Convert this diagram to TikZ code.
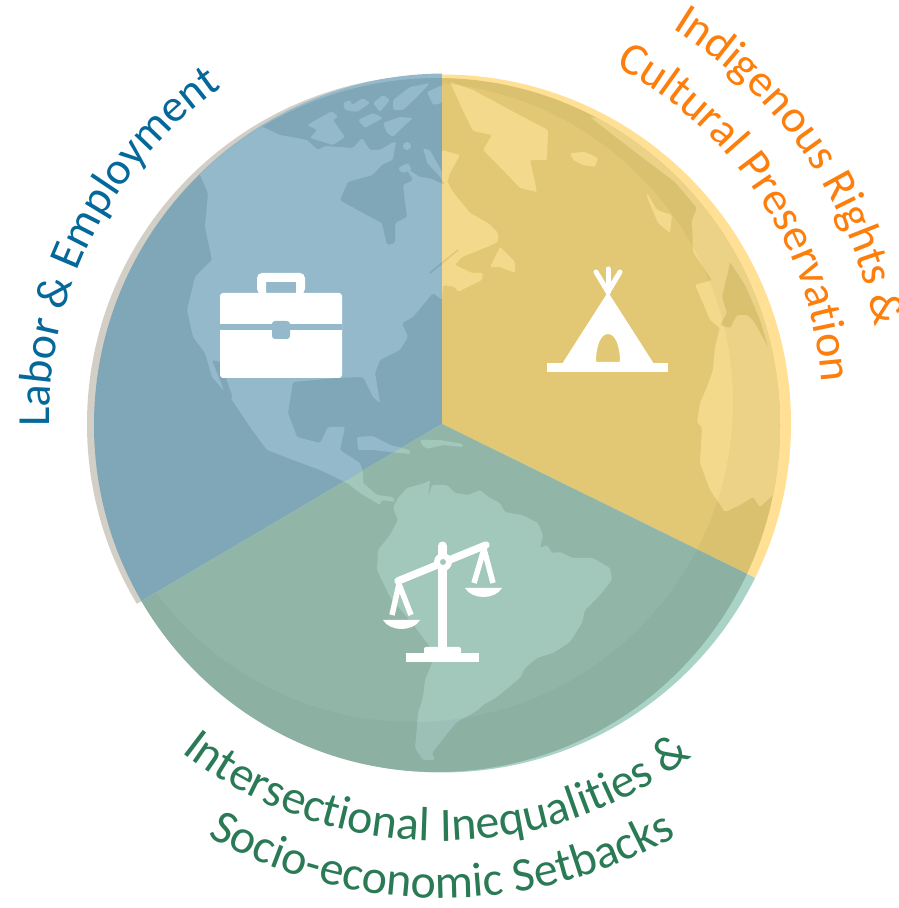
\documentclass[tikz,border=0pt]{standalone}
\usepackage{fontspec}
\setmainfont{Carlito}
\usetikzlibrary{decorations.text}
\definecolor{bluering}{HTML}{93B9CB}
\definecolor{blueocean}{HTML}{7FA7B7}
\definecolor{blueland}{HTML}{93B9CB}
\definecolor{yelring}{HTML}{FFE095}
\definecolor{yelocean}{HTML}{E2C874}
\definecolor{yelland}{HTML}{F3D98B}
\definecolor{grnring}{HTML}{AAD3C8}
\definecolor{grnocean}{HTML}{91B6A7}
\definecolor{grnland}{HTML}{A2C7BB}
\definecolor{crescent}{HTML}{D3CFC6}
\definecolor{txtblue}{HTML}{04699A}
\definecolor{txtorange}{HTML}{FD7E0B}
\definecolor{txtgreen}{HTML}{2A7A55}
\tikzset{
  px/.style={yshift=908pt,y=-1pt},
  land/.style={fill=landc,rounded corners=1.5pt},
  sea/.style={fill=seac,rounded corners=1.5pt},
  icon/.style={fill=white},
  iconline/.style={draw=white,line cap=round},
  rim/.style={fill=black,fill opacity=.03,even odd rule},
  curved/.style={decorate,decoration={text along path,text align=center,text={#1}}}
}
\newcommand\capsize{\fontsize{46}{54}\selectfont}
\newcommand\botsize{\fontsize{48}{54}\selectfont}
\newcommand\landshapes{%
  % North and Central America
  \fill[land] (150,120)--(263,127)--(280,135)--(307,140)--(318,150)--(325,146)--(353,148)--(362,138)--(370,150)--(380,150)--(393,142)--(430,150)--(453,192)--(470,213)--(488,223)--(498,233)--(498,242)--(487,247)--(462,257)--(455,265)--(472,273)--(483,273)--(482,280)--(458,292)--(455,287)--(443,285)--(442,300)--(433,293)--(413,317)--(402,323)--(408,337)--(400,350)--(380,360)--(375,373)--(380,403)--(373,397)--(363,377)--(337,378)--(293,382)--(288,413)--(297,437)--(320,443)--(328,427)--(345,427)--(340,450)--(360,463)--(363,472)--(363,483)--(377,495)--(393,497)--(395,502)--(382,500)--(380,505)--(360,493)--(347,483)--(320,470)--(293,460)--(267,450)--(250,427)--(232,400)--(212,377)--(205,353)--(193,337)--(187,310)--(195,277)--(212,260)--(205,227)--(208,193)--(200,175)--cycle;
  % Hudson Bay and northern waters
  \fill[sea] (340,200)--(348,182)--(373,175)--(382,165)--(393,160)--(397,137)--(413,135)--(423,148)--(427,163)--(440,177)--(445,185)--(430,178)--(420,177)--(405,167)--(413,180)--(403,185)--(405,203)--(407,217)--(395,223)--(395,243)--(387,245)--(382,223)--(363,213)--cycle;
  \fill[land] (407,146) circle[radius=4];
  \fill[land] (398,168)--(408,163)--(412,170)--(402,173)--cycle;
  % Gulf of California, St Lawrence
  \fill[sea] (212,360)--(220,362)--(232,395)--(230,410)--(222,385)--cycle;
  \draw[seac,line width=1.5pt] (430,273)--(458,250);
  % Arctic islands
  \fill[land] (307,125)--(332,111)--(338,117)--(333,120)--(345,137)--(333,145)--(310,138)--(317,130)--cycle;
  \fill[land] (343,103)--(350,100)--(352,105)--(363,98)--(370,103)--(357,112)--(345,110)--cycle;
  \fill[land] (358,120)--(373,113)--(383,118)--(365,128)--cycle;
  \fill[land] (383,123)--(400,117)--(413,118)--(403,127)--(393,137)--(387,133)--cycle;
  \fill[land] (373,103)--(383,95)--(390,100)--(380,112)--cycle;
  \fill[land] (393,100)--(410,87)--(430,83)--(417,97)--(403,110)--(393,110)--cycle;
  \fill[land] (427,92)--(442,85)--(442,103)--(433,105)--cycle;
  \fill[land] (442,150)--(460,155)--(450,173)--(447,183)--(442,172)--cycle;
  % Greenland and Iceland
  \fill[land] (450,82)--(473,90)--(510,110)--(548,130)--(547,160)--(530,160)--(537,192)--(520,188)--(500,167)--(483,150)--(492,135)--(473,131)--(465,115)--cycle;
  \fill[land] (570,153)--(585,152)--(598,158)--(595,167)--(583,165)--(573,160)--cycle;
  % Newfoundland
  \fill[land] (490,267)--(500,247)--(515,262)--(515,273)--(500,267)--cycle;
  % British Isles and Europe
  \fill[land] (647,193)--(657,210)--(672,215)--(670,233)--(658,223)--(647,197)--cycle;
  \fill[land] (590,117)--(643,158)--(675,182)--(697,208)--(692,220)--(693,252)--(712,280)--(695,285)--(703,303)--(710,320)--(720,328)--(715,347)--(713,370)--(707,387)--(700,403)--(697,423)--(702,427)--(700,463)--(710,490)--(717,500)--(725,512)--(740,505)--(753,497)--(760,507)--(800,470)--(800,300)--(720,170)--(650,125)--cycle;
  % Mediterranean
  \fill[sea] (728,272)--(730,262)--(745,285)--(760,320)--(768,347)--(755,323)--(748,315)--(737,315)--(730,328)--(720,325)--(727,313)--(722,297)--cycle;
  % South America
  \fill[land] (393,508)--(398,498)--(407,488)--(425,483)--(430,480)--(428,497)--(432,485)--(447,485)--(455,493)--(468,495)--(480,490)--(490,498)--(500,503)--(505,512)--(522,515)--(538,523)--(543,535)--(540,548)--(547,545)--(552,553)--(560,552)--(573,558)--(593,558)--(610,568)--(612,580)--(600,595)--(585,610)--(582,623)--(570,642)--(553,653)--(537,658)--(525,668)--(520,678)--(497,697)--(483,705)--(478,710)--(457,722)--(450,730)--(440,743)--(432,753)--(435,760)--(423,760)--(415,748)--(417,727)--(418,713)--(423,697)--(425,680)--(432,663)--(430,647)--(412,623)--(390,597)--(377,570)--(378,550)--(390,535)--(398,520)--cycle;
  % Caribbean
  \fill[land] (357,437)--(373,436)--(390,445)--(410,450)--(410,454)--(390,452)--(373,450)--(358,450)--cycle;
  \fill[land] (420,440)--(440,440)--(463,444)--(463,447)--(443,445)--(427,449)--(422,445)--cycle;
}
\newcommand\globedisc[4]{% ring colour, ocean, land, rim flag
  \colorlet{landc}{#3}\colorlet{seac}{#2}%
  \fill[#1] (442,423.5) circle[radius=349];
  \clip (437,425) ellipse[x radius=343,y radius=347];
  \fill[#2] (0,0) rectangle (898,908);
  \landshapes
  #4
}
\begin{document}
\begin{tikzpicture}[x=1pt,y=1pt]
\useasboundingbox (0,0) rectangle (898,908);
\fill[white] (0,0) rectangle (898,908);
\begin{scope}[px]
  % blue sector
  \begin{scope}
    \clip (442,424)--(442,-10)--(-10,-10)--(-10,690.4)--cycle;
    \fill[crescent] (436,424) circle[radius=349];
    \fill[bluering] (445,423.5) circle[radius=350];
    \clip (438,425) ellipse[x radius=344,y radius=347];
    \colorlet{landc}{blueland}\colorlet{seac}{blueocean}
    \fill[blueocean] (0,0) rectangle (898,908);
    \landshapes
  \end{scope}
  % yellow sector
  \begin{scope}
    \clip (442,424)--(442,-10)--(908,-10)--(908,653)--cycle;
    \globedisc{yelring}{yelocean}{yelland}{\fill[rim] (413,402) circle[radius=320] (0,0) rectangle (898,908);}
  \end{scope}
  % green sector
  \begin{scope}
    \clip (442,424)--(-10,690.4)--(-10,918)--(908,918)--(908,653)--cycle;
    \globedisc{grnring}{grnocean}{grnland}{\fill[rim] (413,402) circle[radius=320] (0,0) rectangle (898,908);}
  \end{scope}
  % briefcase
  \fill[icon,even odd rule,rounded corners=5pt] (257,294)--(257,273)--(305,273)--(305,294)--cycle [sharp corners] (266,294)--(266,282)--(296,282)--(296,294)--cycle;
  \fill[icon,rounded corners=3pt] (220,378)--(220,293)--(342,293)--(342,378)--cycle;
  \fill[blueland] (220,324) rectangle (342,330);
  \fill[blueland,rounded corners=3pt] (272,321)--(290,321)--(290,339)--(272,339)--cycle;
  % tipi
  \fill[icon] (547,363) rectangle (668,372);
  \fill[icon,even odd rule] (608,292)--(654,364)--(562,364)--cycle
     (596,362) .. controls (596,345) and (601,334) .. (608,334) .. controls (615,334) and (620,345) .. (620,362) -- cycle;
  \draw[iconline,line width=5pt] (608,292)--(596,272);
  \draw[iconline,line width=5pt] (608,292)--(608,269);
  \draw[iconline,line width=5pt] (608,292)--(620,272);
  % scales
  \fill[icon] (406,653) rectangle (479,662);
  \fill[icon,rounded corners=2pt] (424,654)--(424,647)--(461,647)--(461,654)--cycle;
  \draw[iconline,line width=9pt] (442.5,650)--(442.5,546);
  \draw[iconline,line width=7.5pt] (398,581)--(486,545);
  \fill[icon] (443,562) circle[radius=9];
  \fill[grnland] (443,562) circle[radius=3];
  \draw[white,line width=5.5pt] (399,584)--(392,615) (399,584)--(411,615);
  \draw[white,line width=5.5pt] (484,549)--(474,583) (484,549)--(493,583);
  \fill[icon] (383,620) .. controls (390,632) and (413,632) .. (420,620) -- cycle;
  \fill[icon] (465,588) .. controls (472,600) and (495,600) .. (502,588) -- cycle;
\end{scope}
% labels (y upwards, hub at 442,484)
\path[curved={|\capsize\color{txtblue}|Labor {\&} Employment}] (451.5,490) ++(193:402) arc[start angle=193,end angle=113,radius=402];
\path[curved={|\capsize\color{txtorange}|Indigenous Rights {\&}}] (436.5,501) ++(69.7:446) arc[start angle=69.7,end angle=-1.3,radius=446];
\path[curved={|\capsize\color{txtorange}|Cultural Preservation}] (437,500) ++(76.6:385) arc[start angle=76.6,end angle=-10.4,radius=385];
\path[curved={|\botsize\color{txtgreen}|Intersectional Inequalities {\&}}] (439.5,487) ++(214.5:420) arc[start angle=214.5,end angle=324.5,radius=420];
\path[curved={|\botsize\color{txtgreen}|Socio-economic Setbacks}] (442,484) ++(225:474) arc[start angle=225,end angle=315,radius=474];
\end{tikzpicture}
\end{document}
